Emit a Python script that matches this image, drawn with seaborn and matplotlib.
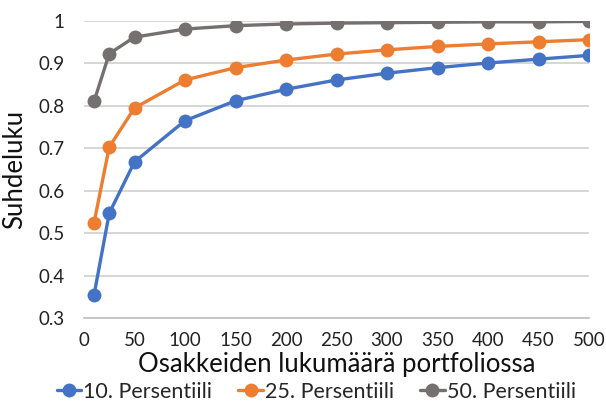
import matplotlib
matplotlib.use("Agg")
import matplotlib.pyplot as plt
import seaborn as sns
import pandas as pd
from matplotlib.lines import Line2D

x_values = [10, 25, 50, 100, 150, 200, 250, 300, 350, 400, 450, 500]
p10 = [0.355, 0.547, 0.668, 0.765, 0.812, 0.839, 0.861, 0.877, 0.890, 0.901, 0.910, 0.919]
p25 = [0.525, 0.703, 0.795, 0.861, 0.890, 0.908, 0.922, 0.932, 0.940, 0.946, 0.951, 0.956]
p50 = [0.811, 0.923, 0.962, 0.981, 0.989, 0.993, 0.995, 0.996, 0.997, 0.998, 0.998, 0.999]
series_names = ["10. Persentiili", "25. Persentiili", "50. Persentiili"]
colors = ["#4472C4", "#ED7D31", "#757070"]
xlabel = "Osakkeiden lukumäärä portfoliossa"
ylabel = "Suhdeluku"
yticks = [0.3, 0.4, 0.5, 0.6, 0.7, 0.8, 0.9, 1.0]
ytick_labels = ["0.3", "0.4", "0.5", "0.6", "0.7", "0.8", "0.9", "1"]
xticks = [0, 50, 100, 150, 200, 250, 300, 350, 400, 450, 500]

rows = []
for name, vals in zip(series_names, [p10, p25, p50]):
    for xv, yv in zip(x_values, vals):
        rows.append({"x": xv, "y": yv, "series": name})
df = pd.DataFrame(rows)

sns.set_style("white")
plt.rcParams["font.family"] = ["Lato", "DejaVu Sans"]

fig = plt.figure(figsize=(6.06, 4.11), dpi=100)
ax = fig.add_axes([84/606, 1 - 318/411, (589-84)/606, (318-21)/411])

sns.lineplot(data=df, x="x", y="y", hue="series", palette=colors,
             marker="o", markersize=10, markeredgewidth=0, linewidth=2.4,
             ax=ax, legend=False, zorder=3)

ax.set_xlim(0, 500)
ax.set_ylim(0.3, 1.0)
ax.set_yticks(yticks)
ax.set_yticklabels(ytick_labels)
ax.set_xticks(xticks)
ax.yaxis.grid(True, color="#D0D0D0", linewidth=1.2)
ax.set_axisbelow(True)
for s in ["left", "right", "top"]:
    ax.spines[s].set_visible(False)
ax.spines["bottom"].set_color("#BFBFBF")
ax.spines["bottom"].set_linewidth(1.2)
ax.tick_params(axis="x", direction="out", length=5, color="#BFBFBF", width=1.2,
               labelsize=13.5, labelcolor="#222222", pad=5)
ax.tick_params(axis="y", length=0, labelsize=13.5, labelcolor="#222222", pad=14)
ax.set_xlabel(xlabel, fontsize=18.5, color="#111111", labelpad=2)
ax.set_ylabel(ylabel, fontsize=18.5, color="#111111", labelpad=8)

handles = [Line2D([0], [0], color=c, marker="o", markersize=10, markeredgewidth=0,
                  linewidth=2.4) for c in colors]
fig.legend(handles, series_names, loc="lower center", bbox_to_anchor=(0.522, -0.025),
           ncol=3, frameon=False, fontsize=15.5, handlelength=1.15, handletextpad=0.1,
           columnspacing=1.2)

fig.savefig("out.png", dpi=100)
